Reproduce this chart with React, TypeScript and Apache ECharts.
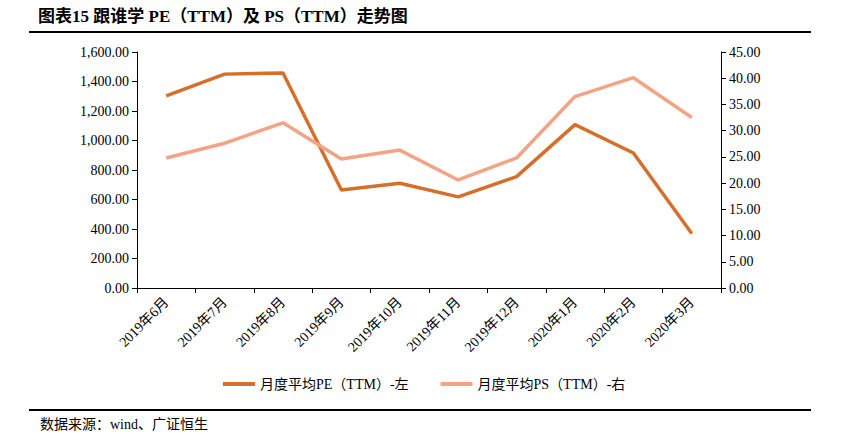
import React, { useEffect, useRef } from "react";
import * as echarts from "echarts";

const categories = [
  "2019年6月", "2019年7月", "2019年8月", "2019年9月", "2019年10月",
  "2019年11月", "2019年12月", "2020年1月", "2020年2月", "2020年3月",
];
const peValues = [1302, 1450, 1458, 664, 710, 618, 755, 1108, 915, 370];
const psValues = [24.8, 27.6, 31.5, 24.6, 26.3, 20.6, 24.8, 36.5, 40.1, 32.5];
const peName = "月度平均PE（TTM）-左";
const psName = "月度平均PS（TTM）-右";
const titleText = "图表15 跟谁学 PE（TTM）及 PS（TTM）走势图";
const sourceText = "数据来源：wind、广证恒生";

const SERIF = "'Liberation Serif', 'Times New Roman', 'Noto Sans CJK SC', serif";

export default function App() {
  const ref = useRef<HTMLDivElement>(null);
  useEffect(() => {
    if (!ref.current) return;
    const chart = echarts.init(ref.current, null, { renderer: "svg" });
    const fmt = (v: number) =>
      v.toLocaleString("en-US", { minimumFractionDigits: 2, maximumFractionDigits: 2 });
    chart.setOption({
      animation: false,
      backgroundColor: "#fff",
      textStyle: { fontFamily: SERIF },
      grid: { left: 137, right: 124, top: 52, bottom: 154, containLabel: false },
      legend: {
        bottom: 46,
        left: 218,
        itemWidth: 32,
        itemHeight: 4,
        itemGap: 32,
        icon: "rect",
        textStyle: { fontFamily: SERIF, fontSize: 14, color: "#000" },
        data: [peName, psName],
      },
      xAxis: {
        type: "category",
        data: categories,
        boundaryGap: true,
        axisLine: { lineStyle: { color: "#000", width: 1 } },
        axisTick: { show: true, alignWithLabel: false, length: 5, lineStyle: { color: "#000" } },
        axisLabel: {
          rotate: 45,
          interval: 0,
          color: "#000",
          fontSize: 14,
          fontFamily: SERIF,
          margin: 12,
        },
      },
      yAxis: [
        {
          type: "value",
          min: 0,
          max: 1600,
          interval: 200,
          position: "left",
          splitLine: { show: false },
          axisLine: { show: true, lineStyle: { color: "#000" } },
          axisTick: { show: true, length: 5, lineStyle: { color: "#000" } },
          axisLabel: { color: "#000", fontSize: 14, fontFamily: SERIF, formatter: fmt, margin: 8 },
        },
        {
          type: "value",
          min: 0,
          max: 45,
          interval: 5,
          position: "right",
          splitLine: { show: false },
          axisLine: { show: true, lineStyle: { color: "#000" } },
          axisTick: { show: true, length: 5, lineStyle: { color: "#000" } },
          axisLabel: { color: "#000", fontSize: 14, fontFamily: SERIF, formatter: fmt, margin: 8 },
        },
      ],
      series: [
        {
          name: peName,
          type: "line",
          yAxisIndex: 0,
          data: peValues,
          showSymbol: false,
          symbol: "none",
          itemStyle: { color: "#D4702B" },
          lineStyle: { color: "#D4702B", width: 3.5 },
        },
        {
          name: psName,
          type: "line",
          yAxisIndex: 1,
          data: psValues,
          showSymbol: false,
          symbol: "none",
          itemStyle: { color: "#F2A485" },
          lineStyle: { color: "#F2A485", width: 3.5 },
        },
      ],
      graphic: [
        {
          type: "text",
          left: 38,
          top: 8,
          style: {
            text: titleText,
            font: `bold 17px ${SERIF}`,
            fill: "#000",
          },
        },
        {
          type: "line",
          shape: { x1: 29, y1: 32, x2: 811, y2: 32 },
          style: { stroke: "#000", lineWidth: 2 },
        },
        {
          type: "line",
          shape: { x1: 29, y1: 410, x2: 811, y2: 410 },
          style: { stroke: "#000", lineWidth: 2 },
        },
        {
          type: "text",
          left: 40,
          top: 417,
          style: {
            text: sourceText,
            font: `14px ${SERIF}`,
            fill: "#000",
          },
        },
      ],
    });
    return () => chart.dispose();
  }, []);
  return <div ref={ref} style={{ width: 845, height: 442, position: "absolute", left: 0, top: 0 }} />;
}
